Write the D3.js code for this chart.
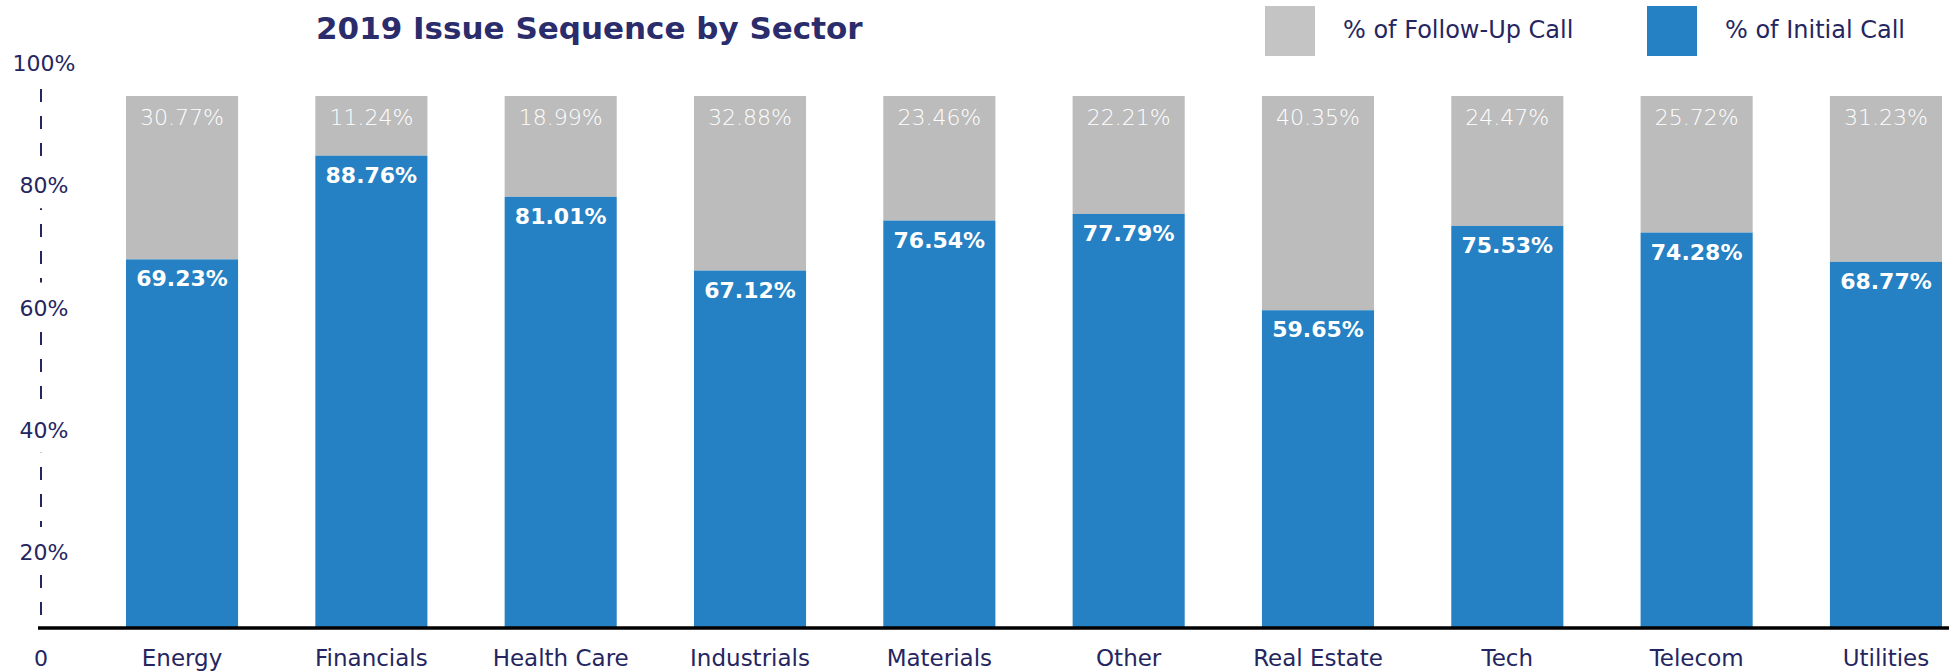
<!DOCTYPE html>
<html>
<head>
<meta charset="utf-8">
<script src="https://cdn.jsdelivr.net/npm/d3@7"></script>
<style>
  html, body { margin: 0; padding: 0; background: #ffffff; }
  svg { display: block; }
  text { font-family: "DejaVu Sans", "Open Sans", sans-serif; }
</style>
</head>
<body>
<svg id="chart" width="1949" height="672"></svg>
<script>
// Sector names, in display order
const categories = ["Energy", "Financials", "Health Care", "Industrials", "Materials",
                    "Other", "Real Estate", "Tech", "Telecom", "Utilities"];
// Share of issues raised on the initial call (%)
const initialCall = [69.23, 88.76, 81.01, 67.12, 76.54, 77.79, 59.65, 75.53, 74.28, 68.77];
// Share of issues raised on a follow-up call (%)
const followUpCall = [30.77, 11.24, 18.99, 32.88, 23.46, 22.21, 40.35, 24.47, 25.72, 31.23];
// Y-axis tick values and labels
const tickValues = [20, 40, 60, 80, 100];
const tickLabels = ["20%", "40%", "60%", "80%", "100%"];
const seriesNames = ["% of Follow-Up Call", "% of Initial Call"];

const NAVY = "#25265f";
const BLUE = "#2581c3";
const GRAY = "#bcbcbc";
const LEGEND_GRAY = "#c4c4c4";
const THIN = 200;
const TEXT = 400;

const svg = d3.select("#chart");

const x = d3.scaleBand()
  .domain(categories)
  .range([126, 1942])
  .paddingInner(0.408)
  .paddingOuter(0);

const y = d3.scaleLinear().domain([0, 100]).range([627, 96]);

// Baselines of the tick labels along the dashed guide
const yTicks = d3.scaleLinear().domain([20, 100]).range([560, 71]);

// Title
svg.append("text")
  .attr("x", 316).attr("y", 39)
  .attr("font-size", 31).attr("font-weight", 700)
  .attr("fill", "#2a2c6c")
  .text("2019 Issue Sequence by Sector");

// Legend
const legend = svg.append("g");
const legendItems = [
  { name: seriesNames[0], color: LEGEND_GRAY, x: 1265 },
  { name: seriesNames[1], color: BLUE, x: 1647 }
];
legendItems.forEach(d => {
  legend.append("rect")
    .attr("x", d.x).attr("y", 6).attr("width", 50).attr("height", 50)
    .attr("fill", d.color);
  legend.append("text")
    .attr("x", d.x + 78).attr("y", 38)
    .attr("font-size", 24).attr("font-weight", TEXT)
    .attr("fill", NAVY)
    .text(d.name);
});

// Dashed vertical guide
svg.append("line")
  .attr("x1", 41).attr("x2", 41)
  .attr("y1", 89).attr("y2", 617)
  .attr("stroke", NAVY).attr("stroke-width", 2)
  .attr("stroke-dasharray", "13,14");

// Tick labels with knock-out backgrounds on the guide
const ticks = svg.append("g");
tickValues.forEach((v, i) => {
  ticks.append("rect")
    .attr("x", 10).attr("y", yTicks(v) - 33)
    .attr("width", 66).attr("height", 48)
    .attr("fill", "#ffffff");
  ticks.append("text")
    .attr("x", 44).attr("y", yTicks(v))
    .attr("text-anchor", "middle")
    .attr("font-size", 22).attr("font-weight", TEXT)
    .attr("fill", NAVY)
    .text(tickLabels[i]);
});
ticks.append("text")
  .attr("x", 41).attr("y", 666)
  .attr("text-anchor", "middle")
  .attr("font-size", 22).attr("font-weight", TEXT)
  .attr("fill", NAVY)
  .text("0");

// Stacked bars
const rows = categories.map((c, i) => ({ c, initial: initialCall[i], follow: followUpCall[i] }));

const bars = svg.append("g");
bars.selectAll("rect.follow")
  .data(rows).join("rect")
  .attr("class", "follow")
  .attr("x", d => x(d.c))
  .attr("width", x.bandwidth())
  .attr("y", d => y(d.initial + d.follow))
  .attr("height", d => y(d.initial) - y(d.initial + d.follow))
  .attr("fill", GRAY);

bars.selectAll("rect.initial")
  .data(rows).join("rect")
  .attr("class", "initial")
  .attr("x", d => x(d.c))
  .attr("width", x.bandwidth())
  .attr("y", d => y(d.initial))
  .attr("height", d => y(0) - y(d.initial))
  .attr("fill", BLUE);

// Value labels
bars.selectAll("text.follow")
  .data(rows).join("text")
  .attr("class", "follow")
  .attr("x", d => x(d.c) + x.bandwidth() / 2)
  .attr("y", d => y(d.initial + d.follow) + 29)
  .attr("text-anchor", "middle")
  .attr("font-size", 22).attr("font-weight", THIN)
  .attr("fill", "#ffffff")
  .text(d => d.follow.toFixed(2) + "%");

bars.selectAll("text.initial")
  .data(rows).join("text")
  .attr("class", "initial")
  .attr("x", d => x(d.c) + x.bandwidth() / 2)
  .attr("y", d => y(d.initial) + 27)
  .attr("text-anchor", "middle")
  .attr("font-size", 22).attr("font-weight", 700)
  .attr("fill", "#ffffff")
  .text(d => d.initial.toFixed(2) + "%");

// Baseline
svg.append("line")
  .attr("x1", 38).attr("x2", 1949)
  .attr("y1", 628).attr("y2", 628)
  .attr("stroke", "#000000").attr("stroke-width", 3.5);

// Category labels
const xAxis = d3.axisBottom(x).tickSize(0).tickPadding(0);
const xg = svg.append("g").attr("transform", "translate(0,666)").call(xAxis);
xg.select(".domain").remove();
xg.selectAll("text")
  .attr("y", 0).attr("dy", null)
  .attr("font-size", 23).attr("font-weight", TEXT)
  .attr("font-family", "'DejaVu Sans', 'Open Sans', sans-serif")
  .attr("fill", NAVY);
</script>
</body>
</html>
